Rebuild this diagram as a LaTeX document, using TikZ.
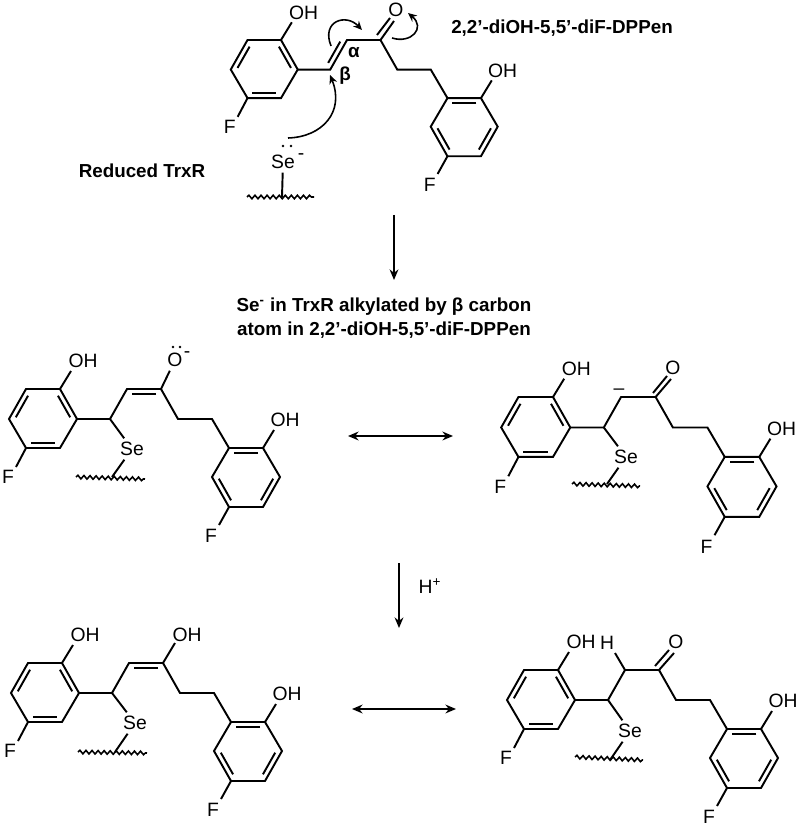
\documentclass[tikz,border=0pt]{standalone}
\usepackage{fontspec}
\setmainfont{Liberation Sans}
\usetikzlibrary{arrows.meta,calc,decorations.pathmorphing}
\tikzstyle{bond}=[line width=1.1pt]
\tikzstyle{wavy}=[line width=0.9pt,decorate,decoration={snake,segment length=3.45pt,amplitude=1pt}]
\tikzstyle{atom}=[inner sep=2pt,font=\fontsize{11}{12}\selectfont]
\tikzstyle{boldtext}=[inner sep=0pt,align=center,font=\fontsize{10.7}{13.4}\selectfont\bfseries]
\tikzstyle{reaction}=[line width=1.1pt,-{Stealth[length=6pt,width=5pt]}]
\tikzstyle{resonance}=[line width=1.1pt,{Stealth[length=6pt,width=5pt]}-{Stealth[length=6pt,width=5pt]}]
\tikzstyle{push}=[line width=0.9pt,-{Stealth[length=5pt,width=4.5pt]}]
% second line of a double bond, on the left of a->b
\newcommand{\innerbond}[2]{\draw [bond] ($(#1)!.14!(#2)!2.9pt!90:(#2)$) -- ($(#2)!.14!(#1)!2.9pt!-90:(#1)$);}
% the part all five structures share: prefix, x, y, scale
\newcommand{\skeleton}[4]{
\begin{scope}[shift={(#2,#3)},scale=#4]
\coordinate (#1r1) at (0,0);
\coordinate (#1r2) at (-34,0);
\coordinate (#1r3) at (-51,-30);
\coordinate (#1r4) at (-34,-59);
\coordinate (#1r5) at (0,-59);
\coordinate (#1r6) at (17,-30);
\coordinate (#1c1) at (50,-30);
\coordinate (#1c2) at (67,0);
\coordinate (#1c3) at (101,0);
\coordinate (#1c4) at (118,-30);
\coordinate (#1c5) at (152,-30);
\coordinate (#1b1) at (169,-59);
\coordinate (#1b2) at (203,-59);
\coordinate (#1b3) at (220,-88);
\coordinate (#1b4) at (203,-118);
\coordinate (#1b5) at (169,-118);
\coordinate (#1b6) at (152,-88);
\coordinate (#1oha) at (11,18);
\coordinate (#1ohb) at (214,-41);
\coordinate (#1fa) at (-44,-78);
\coordinate (#1fb) at (159,-136);
\node [atom] (#1oh) at (23,28) {OH};
\node [atom] (#1ohr) at (225,-31) {OH};
\node [atom] (#1f) at (-52,-88) {F};
\node [atom] (#1fr) at (151,-147) {F};
\end{scope}
\draw [bond] (#1r1) -- (#1r2) -- (#1r3) -- (#1r4) -- (#1r5) -- (#1r6) -- cycle;
\draw [bond] (#1b1) -- (#1b2) -- (#1b3) -- (#1b4) -- (#1b5) -- (#1b6) -- cycle;
\draw [bond] (#1r6) -- (#1c1) -- (#1c2) -- (#1c3) -- (#1c4) -- (#1c5) -- (#1b1);
\draw [bond] (#1r1) -- (#1oha);
\draw [bond] (#1r4) -- (#1fa);
\draw [bond] (#1b2) -- (#1ohb);
\draw [bond] (#1b5) -- (#1fb);
\innerbond{#1r2}{#1r3}
\innerbond{#1r4}{#1r5}
\innerbond{#1r6}{#1r1}
\innerbond{#1b2}{#1b1}
\innerbond{#1b4}{#1b3}
\innerbond{#1b6}{#1b5}
}
% selenium on its chain: prefix, Se, wave start, wave end, joint
\newcommand{\selink}[5]{
\node [atom] (#1se) at #2 {Se};
\coordinate (#1wa) at #3;
\coordinate (#1wb) at #4;
\coordinate (#1wj) at #5;
\draw [bond] (#1c1) -- (#1se);
\draw [bond] (#1se) -- (#1wj);
\draw [wavy] (#1wa) -- (#1wb);
}
\begin{document}
\begin{tikzpicture}[x=0.02cm,y=0.02cm]
\useasboundingbox (0,0) rectangle (800,-827);
% top structure
\skeleton{a}{281}{-40}{0.985}
\innerbond{ac1}{ac2}
\node [atom] (ao) at (396,-10) {O};
\coordinate (aoa) at (394,-21);
\coordinate (aob) at (377,-35);
\coordinate (aoc) at (390,-18);
\draw [bond] (ac3) -- (aoa);
\draw [bond] (aob) -- (aoc);
\node [boldtext] (atitle) at (562,-28) {2,2’-diOH-5,5’-diF-DPPen};
\node [boldtext] (aalpha) at (354,-53) {α};
\node [boldtext] (abeta) at (345,-76) {β};
\node [boldtext] (enzyme) at (142,-171) {Reduced TrxR};
\node [atom] (ase) at (283,-162) {Se};
\node [atom,inner sep=0pt] (aseminus) at (301,-157) {-};
\fill (283,-146) circle (1.3);
\fill (291,-146) circle (1.3);
\coordinate (awa) at (247,-197);
\coordinate (awb) at (314,-197);
\coordinate (awj) at (282,-197);
\draw [bond] (ase) -- (awj);
\draw [wavy] (awa) -- (awb);
\coordinate (pa) at (288,-138);
\coordinate (pb) at (330,-75);
\draw [push] (pa) .. controls (322,-137) and (345,-112) .. (pb);
\coordinate (pc) at (331,-46);
\coordinate (pd) at (362,-30);
\draw [push] (pc) .. controls (321,-21) and (346,-13) .. (pd);
\coordinate (pe) at (392,-38);
\coordinate (pf) at (408,-13);
\draw [push] (pe) .. controls (411,-44) and (426,-28) .. (pf);
% step one
\coordinate (ra) at (394,-215);
\coordinate (rb) at (394,-280);
\draw [reaction] (ra) -- (rb);
\node [boldtext] (adduct) at (384,-318) {Se\textsuperscript{-} in TrxR alkylated  by β carbon\\atom in 2,2’-diOH-5,5’-diF-DPPen};
% enolate
\skeleton{b}{60}{-389}{1}
\innerbond{bc3}{bc2}
\node [atom] (bo) at (175,-360) {O};
\node [atom,inner sep=0pt] (bominus) at (187,-355) {-};
\fill (173,-347) circle (1.3);
\fill (180,-347) circle (1.3);
\draw [bond] (bc3) -- (bo);
\selink{b}{(132,-449)}{(76,-477)}{(145,-479)}{(112,-477)}
% carbanion
\skeleton{c}{553}{-397}{1.016}
\node [atom] (co) at (673,-368) {O};
\coordinate (coa) at (671,-379);
\coordinate (cob) at (653,-393);
\coordinate (coc) at (667,-376);
\draw [bond] (cc3) -- (coa);
\draw [bond] (cob) -- (coc);
\node [atom,inner sep=0pt] (cminus) at (619,-392) {–};
\selink{c}{(626,-457)}{(572,-484)}{(640,-486)}{(607,-484)}
% middle arrows
\coordinate (sa) at (348,-436);
\coordinate (sb) at (453,-436);
\draw [resonance] (sa) -- (sb);
\coordinate (ta) at (399,-563);
\coordinate (tb) at (399,-628);
\draw [reaction] (ta) -- (tb);
\node [atom,inner sep=0pt,anchor=base] (proton) at (430,-593) {H\textsuperscript{+}};
\coordinate (ua) at (352,-709);
\coordinate (ub) at (456,-709);
\draw [resonance] (ua) -- (ub);
% enol
\skeleton{d}{62}{-663}{1}
\innerbond{dc3}{dc2}
\node [atom] (doh2) at (187,-635) {OH};
\coordinate (doe) at (175,-643);
\draw [bond] (dc3) -- (doe);
\selink{d}{(135,-723)}{(78,-752)}{(147,-753)}{(115,-752)}
% ketone
\skeleton{e}{558}{-670}{1}
\node [atom] (eo) at (676,-642) {O};
\coordinate (eoa) at (674,-653);
\coordinate (eob) at (655,-666);
\coordinate (eoc) at (669,-650);
\draw [bond] (ec3) -- (eoa);
\draw [bond] (eob) -- (eoc);
\node [atom] (eh) at (607,-643) {H};
\coordinate (ehe) at (615,-653);
\draw [bond] (ec2) -- (ehe);
\selink{e}{(630,-731)}{(575,-757)}{(643,-760)}{(610,-760)}
\end{tikzpicture}
\end{document}
